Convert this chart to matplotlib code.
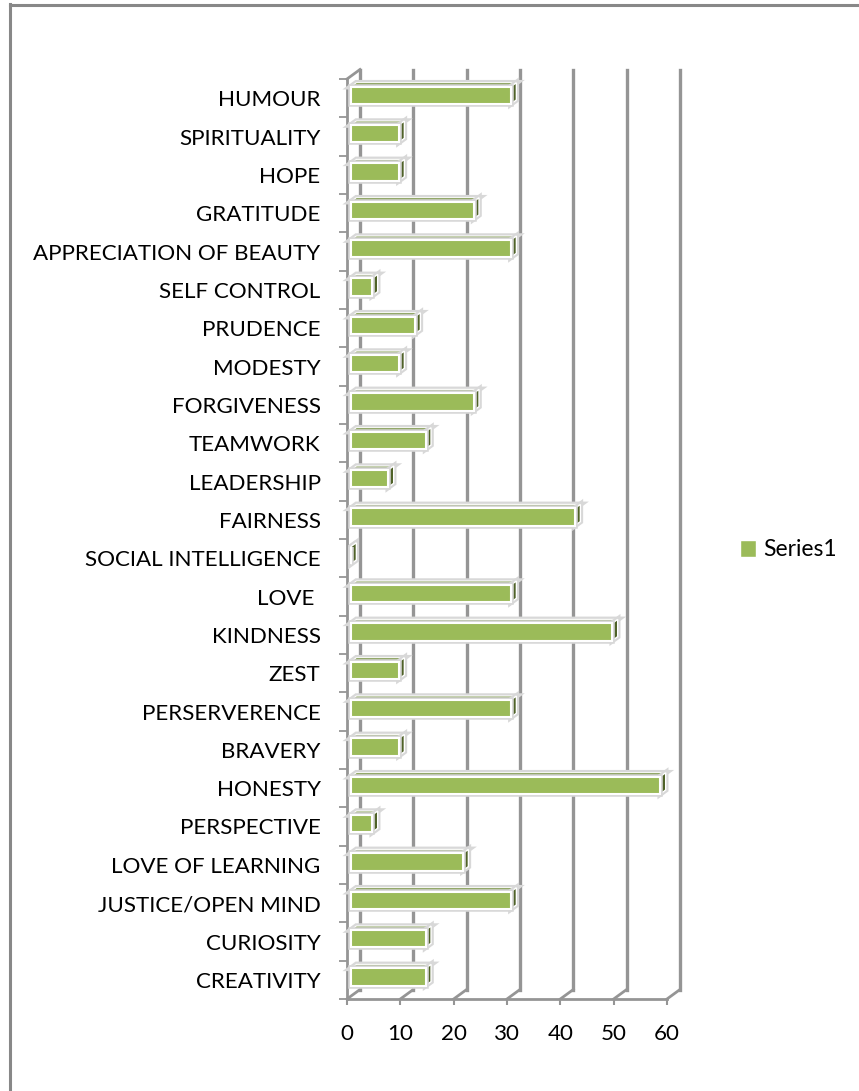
import numpy as np
import matplotlib
matplotlib.use('Agg')
import matplotlib.pyplot as plt
from matplotlib.patches import Polygon, Patch
from matplotlib.lines import Line2D
import matplotlib.patheffects as pe

#Data (bottom to top)
categories = ['CREATIVITY', 'CURIOSITY', 'JUSTICE/OPEN MIND', 'LOVE OF LEARNING',
              'PERSPECTIVE', 'HONESTY', 'BRAVERY', 'PERSERVERENCE', 'ZEST',
              'KINDNESS', 'LOVE ', 'SOCIAL INTELLIGENCE', 'FAIRNESS', 'LEADERSHIP',
              'TEAMWORK', 'FORGIVENESS', 'MODESTY', 'PRUDENCE', 'SELF CONTROL',
              'APPRECIATION OF BEAUTY', 'GRATITUDE', 'HOPE', 'SPIRITUALITY', 'HUMOUR']
values = [14, 14, 30, 21, 4, 58, 9, 30, 9, 49, 30, 0, 42, 7, 14, 23, 9, 12, 4, 30, 23, 9, 9, 30]
x_ticks = [0, 10, 20, 30, 40, 50, 60]
series_name = 'Series1'

#Style
plt.rcParams['font.family'] = ['Lato', 'DejaVu Sans']
FS = 16.1
bar_green = '#9BBB59'
top_green = '#6E8B35'
cap_green = '#4F6228'
grid_gray = '#959595'

W, H = 859, 1091
fig = plt.figure(figsize=(W/100, H/100), dpi=100)

#Outer chart border (cropped on right/bottom)
fig.add_artist(Line2D([9.5/W, 9.5/W], [0, 1-4/H], color='#888888', lw=2.2))
fig.add_artist(Line2D([9.5/W, 1], [1-4.5/H, 1-4.5/H], color='#888888', lw=2.2))

left, right, top, bottom = 347, 667, 79, 999
ax = fig.add_axes([left/W, 1-bottom/H, (right-left)/W, (bottom-top)/H])
n = len(categories)
ax.set_xlim(0, 60)
ax.set_ylim(-0.5, n-0.5)
for s in ax.spines.values():
    s.set_visible(False)
ax.patch.set_alpha(0)

#Depth offset of the 3D box in data units
DX = 13/((right-left)/60.0)
DY = 9.5/((bottom-top)/float(n))
y0, y1 = -0.5, n-0.5

#Back wall gridlines + floor slants
for v in x_ticks:
    ax.plot([v+DX, v+DX], [y0+DY, y1+DY], color=grid_gray, lw=2.4, clip_on=False, zorder=1)
    ax.plot([v, v+DX], [y0, y0+DY], color=grid_gray, lw=2.0, clip_on=False, zorder=1)
#Front floor edge and front wall edge
ax.plot([0, 60], [y0, y0], color=grid_gray, lw=2.0, clip_on=False, zorder=1)
ax.plot([0, 0], [y0, y1], color=grid_gray, lw=2.0, clip_on=False, zorder=1)
ax.plot([0, DX], [y1, y1+DY], color=grid_gray, lw=2.0, clip_on=False, zorder=1)

#Bars with a faux 3D look
bh = 0.45
f0, f1 = 0.3, 0.72
glow = [pe.withStroke(linewidth=4, foreground='#d8d8d8')]
for i, v in enumerate(values):
    xf, yf = f0*DX, f0*DY
    xb, yb = f1*DX, f1*DY
    lo, hi = i-bh/2, i+bh/2
    front = Polygon([(xf, lo+yf), (v+xf, lo+yf), (v+xf, hi+yf), (xf, hi+yf)],
                    closed=True, fc=bar_green, ec='white', lw=1.5, zorder=5, clip_on=False,
                    path_effects=glow)
    topf = Polygon([(xf, hi+yf), (v+xf, hi+yf), (v+xb, hi+yb), (xb, hi+yb)],
                   closed=True, fc=top_green, ec='white', lw=0.8, zorder=4, clip_on=False,
                   path_effects=glow)
    cap = Polygon([(v+xf, lo+yf), (v+xb, lo+yb), (v+xb, hi+yb), (v+xf, hi+yf)],
                  closed=True, fc=cap_green, ec='white', lw=1.0, zorder=4, clip_on=False,
                  path_effects=glow)
    ax.add_patch(topf)
    ax.add_patch(cap)
    ax.add_patch(front)

#Axes ticks and labels
ax.set_yticks(range(n))
ax.set_yticklabels(categories, fontsize=FS)
ax.tick_params(axis='y', length=0, pad=19)
ax.set_yticks(np.arange(-0.5, n, 1.0), minor=True)
ax.tick_params(axis='y', which='minor', length=5.5, width=1.3, color=grid_gray)
ax.set_xticks(x_ticks)
ax.set_xticklabels([str(t) for t in x_ticks], fontsize=FS)
ax.tick_params(axis='x', length=4, width=1.5, color=grid_gray, pad=14)

#Legend
fig.legend(handles=[Patch(fc=bar_green, ec='white', label=series_name)],
           loc='center left', bbox_to_anchor=(719/W, 1-550/H), frameon=False,
           fontsize=16.5, handlelength=0.7, handleheight=0.7, handletextpad=0.35)

fig.savefig('out.png', dpi=100)
